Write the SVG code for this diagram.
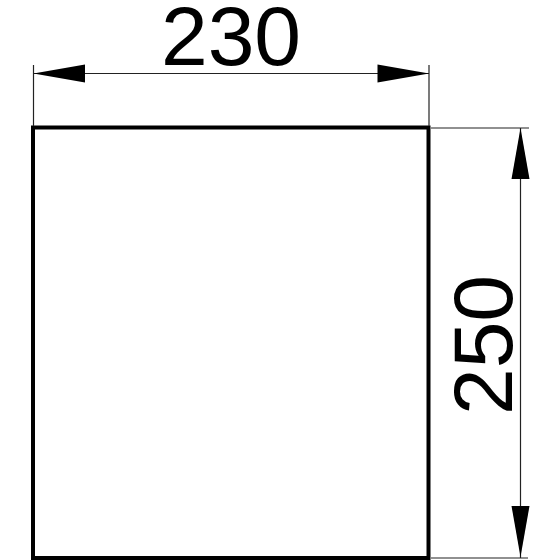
<svg xmlns="http://www.w3.org/2000/svg" width="560" height="560" viewBox="0 0 560 560">
<style>
.thin{stroke:#222;stroke-width:1.2;fill:none}
.dim{font-family:"Liberation Sans",Arial,sans-serif;font-size:84px;fill:#000}
.ah{fill:#000}
</style>
<rect width="560" height="560" fill="#fff"/>
<g id="plate">
<rect x="33" y="127.5" width="395.5" height="430.5" fill="none" stroke="#000" stroke-width="4"/>
</g>
<g id="connectors">
<line class="thin" x1="33.5" y1="65" x2="33.5" y2="126"/>
<line class="thin" x1="429" y1="65" x2="429" y2="126"/>
<line class="thin" x1="33.5" y1="73.5" x2="429" y2="73.5"/>
<polygon class="ah" points="33.5,73.5 85,64.5 85,82.5"/>
<polygon class="ah" points="429,73.5 377.5,64.5 377.5,82.5"/>
<line class="thin" x1="431" y1="128" x2="529" y2="128"/>
<line class="thin" x1="431" y1="558" x2="528" y2="558"/>
<line class="thin" x1="520.5" y1="128" x2="520.5" y2="558"/>
<polygon class="ah" points="520.5,128 511.5,179 529.5,179"/>
<polygon class="ah" points="520.5,557 511.5,506 529.5,506"/>
</g>
<g id="labels">
<text class="dim" x="231" y="65" text-anchor="middle">230</text>
<text class="dim" transform="translate(512,345) rotate(-90)" text-anchor="middle">250</text>
</g>
</svg>
